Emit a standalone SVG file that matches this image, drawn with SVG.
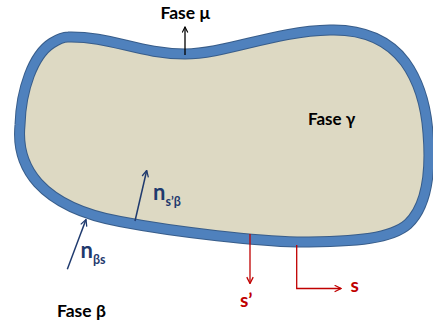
<svg xmlns="http://www.w3.org/2000/svg" width="433" height="322" viewBox="0 0 433 322">
  <style>
    .lbl { font-family: Lato, "Liberation Sans", sans-serif; font-weight: bold; }
    .blk { fill: #000000; }
    .navy { fill: #1f3a6e; }
    .red { fill: #c00000; }
    .arrN { stroke: #1f3a6e; stroke-width: 1.5; fill: none; }
    .arrR { stroke: #c00000; stroke-width: 1.3; fill: none; }
    .arrK { stroke: #000000; stroke-width: 1.3; fill: none; }
  </style>
  <defs>
    <path id="blob" d="M 68,37 C 110,36 140,54 185,54 C 225,54 275,31 330,30 C 365,29 390,42 405,62 C 418,80 426,105 428,133 C 431,170 428,205 408,224 C 392,238 360,242 297,242 C 260,241 180,233 120,221.5 C 95,217 60,207 38,183 C 22,165 18,145 20,125 C 21,90 33,55 52,43 C 58,39.2 62,37 68,37 Z"/>
    <marker id="mK" viewBox="0 0 10 10" refX="9" refY="5" markerWidth="7" markerHeight="7" markerUnits="userSpaceOnUse" orient="auto">
      <path d="M1,1 L9,5 L1,9" fill="none" stroke="#000000" stroke-width="1.6"/>
    </marker>
    <marker id="mN" viewBox="0 0 10 10" refX="9" refY="5" markerWidth="8" markerHeight="8" markerUnits="userSpaceOnUse" orient="auto">
      <path d="M1,1 L9,5 L1,9" fill="none" stroke="#1f3a6e" stroke-width="1.6"/>
    </marker>
    <marker id="mR" viewBox="0 0 10 10" refX="9" refY="5" markerWidth="8" markerHeight="8" markerUnits="userSpaceOnUse" orient="auto">
      <path d="M1,1 L9,5 L1,9" fill="none" stroke="#c00000" stroke-width="1.6"/>
    </marker>
  </defs>

  <g id="faseGamma">
    <use href="#blob" fill="#ddd9c3" stroke="#385d8a" stroke-width="11"/>
    <use href="#blob" fill="none" stroke="#4f81bd" stroke-width="9"/>
  </g>

  <g id="connectors">
    <line class="arrK" x1="185" y1="55" x2="185" y2="27" marker-end="url(#mK)"/>
    <line class="arrN" x1="135" y1="221" x2="146.7" y2="170.5" marker-end="url(#mN)"/>
    <line class="arrN" x1="67.3" y1="269.3" x2="86" y2="219.5" marker-end="url(#mN)"/>
    <line class="arrR" x1="250" y1="234" x2="250" y2="283.5" marker-end="url(#mR)"/>
    <polyline class="arrR" points="296.7,245 296.7,288.5 341,288.5" marker-end="url(#mR)"/>
  </g>

  <g id="labelMu">
    <text class="lbl blk" x="160.5" y="19.3" font-size="17.5">Fase μ</text>
  </g>
  <g id="labelGamma">
    <text class="lbl blk" x="308" y="125" font-size="17">Fase γ</text>
  </g>
  <g id="labelBeta">
    <text class="lbl blk" x="57" y="316.5" font-size="17.5">Fase β</text>
  </g>
  <g id="labelNsb">
    <text class="lbl navy" x="153" y="200" font-size="22">n<tspan font-size="12.5" dy="6">s’β</tspan></text>
  </g>
  <g id="labelNbs">
    <text class="lbl navy" x="80.5" y="258.3" font-size="22">n<tspan font-size="12.5" dy="6">βs</tspan></text>
  </g>
  <g id="labelSprime">
    <text class="lbl red" x="240" y="306.7" font-size="19">s’</text>
  </g>
  <g id="labelS">
    <text class="lbl red" x="350.5" y="291.7" font-size="19">s</text>
  </g>
</svg>
